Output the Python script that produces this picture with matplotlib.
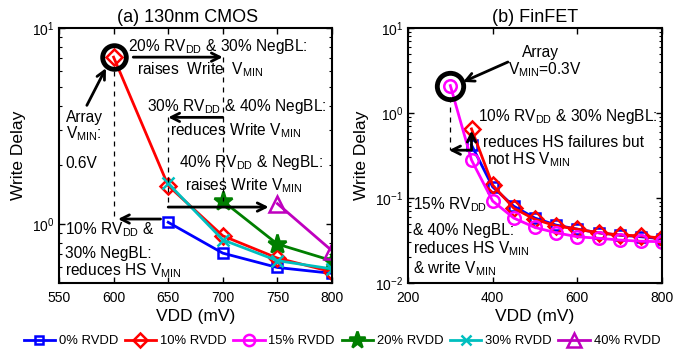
import numpy as np
import matplotlib
matplotlib.use("Agg")
import matplotlib.pyplot as plt
from matplotlib.lines import Line2D

plt.rcParams['font.family'] = ['Liberation Sans', 'DejaVu Sans']
plt.rcParams['mathtext.fontset'] = 'custom'
plt.rcParams['mathtext.rm'] = 'Liberation Sans'
plt.rcParams['mathtext.it'] = 'Liberation Sans'
plt.rcParams['mathtext.default'] = 'regular'

nan = np.nan

# (a) 130nm CMOS
vdd_cmos = [600, 650, 700, 750, 800]
cmos_rvdd0 = [nan, 1.02, 0.71, 0.60, 0.56]
cmos_rvdd10 = [7.1, 1.57, 0.87, 0.67, 0.57]
cmos_rvdd20 = [nan, nan, 1.31, 0.79, 0.65]
cmos_rvdd30 = [nan, 1.61, 0.83, 0.65, 0.59]
cmos_rvdd40 = [nan, nan, nan, 1.27, 0.73]

# (b) FinFET
vdd_fin = [300, 350, 400, 450, 500, 550, 600, 650, 700, 750, 800]
fin_rvdd0 = [nan, 0.42, 0.135, 0.080, 0.058, 0.048, 0.043, 0.039, 0.0365, 0.035, 0.033]
fin_rvdd10 = [nan, 0.65, 0.142, 0.0757, 0.056, 0.047, 0.043, 0.039, 0.0367, 0.0358, 0.0336]
fin_rvdd15 = [2.1, 0.28, 0.092, 0.058, 0.045, 0.039, 0.035, 0.0336, 0.032, 0.031, 0.0306]

series_labels = ['0% RVDD', '10% RVDD', '15% RVDD', '20% RVDD', '30% RVDD', '40% RVDD']
colors = ['#0000FF', '#FF0000', '#FF00FF', '#007F00', '#00BFBF', '#BF00BF']
markers = ['s', 'D', 'o', '*', 'x', '^']
msizes = [7, 8, 9, 14, 8, 11]
filled = [False, False, False, True, False, False]

fig = plt.figure(figsize=(6.88, 3.52), dpi=100)
axA = fig.add_axes([59/688, 1-283/352, 273/688, 255/352])
axB = fig.add_axes([408/688, 1-283/352, 254/688, 255/352])

def style(ax):
    ax.set_yscale('log')
    ax.tick_params(which='both', direction='in', top=True, right=True, labelsize=10)
    ax.tick_params(which='major', length=4, width=1)
    ax.tick_params(which='minor', length=2.5, width=0.8)
    ax.tick_params(axis='x', pad=6)
    for s in ax.spines.values():
        s.set_linewidth(1.5)

def series(ax, x, y, i, ms=None):
    ax.plot(x, y, color=colors[i], marker=markers[i], ms=ms or msizes[i],
            mfc=colors[i] if filled[i] else 'none', mec=colors[i], mew=1.8, lw=2)

# ---- panel (a)
series(axA, vdd_cmos, cmos_rvdd0, 0)
series(axA, vdd_cmos, cmos_rvdd10, 1)
series(axA, vdd_cmos, cmos_rvdd20, 3)
series(axA, vdd_cmos, cmos_rvdd30, 4)
series(axA, vdd_cmos, cmos_rvdd40, 5)
axA.plot([vdd_cmos[0]], [cmos_rvdd10[0]], 'o', ms=17, mfc='none', mec='k', mew=3.5)
style(axA)
axA.set_xlim(550, 800)
axA.set_ylim(0.5, 10)
axA.set_xticks([550, 600, 650, 700, 750, 800])
axA.set_title('(a) 130nm CMOS', fontsize=13, x=0.47, pad=4)
axA.set_xlabel('VDD (mV)', fontsize=12.5, labelpad=3)
axA.set_ylabel('Write Delay', fontsize=12.5, labelpad=4)

arrow = dict(arrowstyle='->', lw=2, color='k', mutation_scale=15, shrinkA=0, shrinkB=0)
fs = 11.2
dash = dict(color='k', ls=(0, (4, 4)), lw=0.9)

axA.plot([600, 600], [6.0, 1.06], **dash)
axA.plot([700, 700], [7.1, 1.31], **dash)
axA.plot([650, 650], [3.5, 1.22], **dash)

axA.text(613, 8.0, r'20% RV$_{DD}$ & 30% NegBL:', fontsize=fs, va='center')
axA.text(621, 6.1, r'raises  Write  V$_{MIN}$', fontsize=fs, va='center')
axA.annotate('', xy=(700, 7.1), xytext=(618, 7.1), arrowprops=arrow)

axA.text(631, 3.98, r'30% RV$_{DD}$ & 40% NegBL:', fontsize=fs, va='center')
axA.text(652, 3.0, r'reduces Write V$_{MIN}$', fontsize=fs, va='center')
axA.annotate('', xy=(650, 3.5), xytext=(700, 3.5), arrowprops=arrow)

axA.text(660, 2.05, r'40% RV$_{DD}$ & NegBL:', fontsize=fs, va='center')
axA.text(665, 1.57, r'raises Write V$_{MIN}$', fontsize=fs, va='center')
axA.annotate('', xy=(742, 1.22), xytext=(650, 1.22), arrowprops=arrow)

axA.text(556, 3.5, 'Array', fontsize=fs, va='center')
axA.text(556, 2.9, r'V$_{MIN}$:', fontsize=fs, va='center')
axA.text(556, 2.03, '0.6V', fontsize=fs, va='center')
axA.annotate('', xy=(593, 6.24), xytext=(575.5, 4.03), arrowprops=arrow)

axA.text(555.5, 0.94, r'10% RV$_{DD}$ &', fontsize=fs, va='center')
axA.text(555.5, 0.71, '30% NegBL:', fontsize=fs, va='center')
axA.text(555.5, 0.575, r'reduces HS V$_{MIN}$', fontsize=fs, va='center')
axA.annotate('', xy=(604, 1.06), xytext=(643, 1.06), arrowprops=arrow)

# ---- panel (b)
series(axB, vdd_fin, fin_rvdd0, 0, ms=7)
series(axB, vdd_fin, fin_rvdd10, 1, ms=8)
series(axB, vdd_fin, fin_rvdd15, 2, ms=9)
axB.plot([vdd_fin[0]], [fin_rvdd15[0]], 'o', ms=19, mfc='none', mec='k', mew=3.5)
style(axB)
axB.set_xlim(200, 800)
axB.set_ylim(0.01, 10)
axB.set_xticks([200, 400, 600, 800])
axB.set_title('(b) FinFET', fontsize=13, pad=4)
axB.set_xlabel('VDD (mV)', fontsize=12.5, labelpad=3)
axB.set_ylabel('Write Delay', fontsize=12.5, labelpad=4)

axB.text(469, 5.2, 'Array', fontsize=fs, va='center')
axB.text(436, 3.2, r'V$_{MIN}$=0.3V', fontsize=fs, va='center')
axB.annotate('', xy=(330, 2.32), xytext=(436, 3.98), arrowprops=arrow)

axB.text(365, 0.9, r'10% RV$_{DD}$ & 30% NegBL:', fontsize=fs, va='center')
axB.text(377, 0.45, 'reduces HS failures but', fontsize=fs, va='center')
axB.text(387, 0.285, r'not HS V$_{MIN}$', fontsize=fs, va='center')
axB.plot([300, 300], [1.54, 0.365], **dash)
axB.annotate('', xy=(350, 0.62), xytext=(350, 0.365), arrowprops=arrow)
axB.annotate('', xy=(297, 0.365), xytext=(347, 0.365), arrowprops=arrow)

axB.text(212, 0.0826, r'15% RV$_{DD}$', fontsize=fs, va='center')
axB.text(212, 0.0415, '& 40% NegBL:', fontsize=fs, va='center')
axB.text(212, 0.0257, r'reduces HS V$_{MIN}$', fontsize=fs, va='center')
axB.text(212, 0.0148, r'& write V$_{MIN}$', fontsize=fs, va='center')

# ---- shared legend
handles = [Line2D([], [], color=colors[i], marker=markers[i], ms=msizes[i] * 0.9,
                  mfc=colors[i] if filled[i] else 'none', mec=colors[i], mew=1.8, lw=2)
           for i in range(len(series_labels))]
fig.legend(handles, series_labels, loc='center', bbox_to_anchor=(0.497, 1 - 341/352),
           ncol=6, frameon=False, fontsize=9.4, handlelength=2.4, handletextpad=0.3,
           columnspacing=0.5, borderaxespad=0)

fig.savefig('out.png', dpi=100)
